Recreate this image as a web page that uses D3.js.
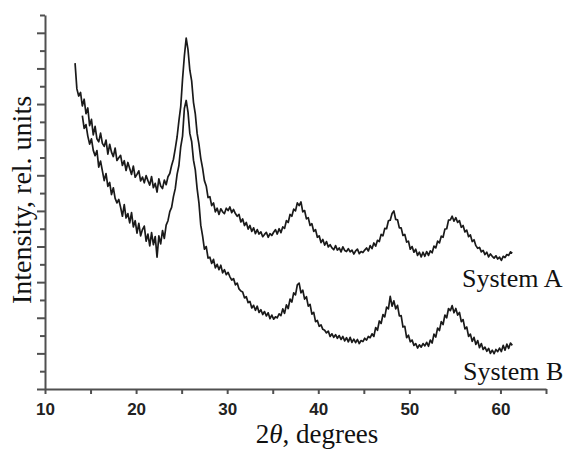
<!DOCTYPE html>
<html>
<head>
<meta charset="utf-8">
<script src="https://cdn.jsdelivr.net/npm/d3@7"></script>
<style>
  body { margin: 0; background: #fff; }
  svg { display: block; }
</style>
</head>
<body>
<svg id="chart" width="571" height="450"></svg>
<script>
// 2theta grid: first angle of each scan and the step (degrees)
const startA = 13.3;
const startB = 14.1;
const step = 0.2;

// System A intensities (rel. units)
const systemA = [
  18.30, 16.85, 16.45, 16.65, 15.89, 16.27, 15.46, 15.78, 14.79, 15.14,
  14.27, 14.75, 14.05, 13.88, 14.37, 13.79, 13.62, 13.98, 13.19, 13.74,
  13.30, 13.05, 13.53, 12.83, 12.98, 13.12, 12.55, 12.82, 12.27, 12.72,
  12.38, 12.05, 12.52, 11.89, 12.05, 12.25, 11.68, 11.90, 11.58, 11.98,
  11.70, 11.45, 11.93, 11.30, 11.55, 11.06, 11.80, 11.40, 11.25, 11.73,
  11.47, 11.92, 12.10, 12.55, 12.90, 13.50, 14.15, 15.05, 15.85, 17.40,
  18.70, 19.70, 19.05, 17.90, 17.30, 16.10, 15.45, 14.35, 13.75, 12.95,
  12.40, 11.70, 11.40, 10.75, 10.80, 10.30, 10.45, 9.95, 10.15, 9.80,
  10.12, 9.95, 9.85, 10.15, 10.02, 10.22, 9.90, 10.08, 9.85, 9.70,
  9.80, 9.38, 9.55, 9.18, 9.35, 8.98, 9.18, 8.85, 9.05, 8.72,
  8.95, 8.70, 8.82, 8.55, 8.68, 8.80, 8.52, 8.72, 8.62, 8.80,
  8.95, 8.70, 9.00, 8.78, 9.10, 9.02, 9.45, 9.35, 9.80, 9.70,
  10.10, 10.00, 10.45, 10.30, 10.50, 9.95, 10.02, 9.55, 9.62, 9.18,
  9.28, 8.85, 8.95, 8.52, 8.60, 8.22, 8.40, 8.08, 8.28, 7.98,
  8.10, 7.92, 7.82, 8.05, 7.80, 7.92, 7.70, 7.98, 7.78, 7.72,
  7.88, 7.70, 7.80, 7.58, 7.75, 7.85, 7.60, 7.72, 7.66, 7.80,
  7.92, 7.75, 8.05, 7.88, 8.20, 8.02, 8.35, 8.28, 8.68, 8.60,
  9.02, 9.00, 9.45, 9.48, 9.85, 10.00, 9.52, 9.50, 9.05, 9.05,
  8.62, 8.68, 8.25, 8.30, 7.85, 8.00, 7.68, 7.85, 7.50, 7.68,
  7.42, 7.68, 7.45, 7.72, 7.50, 7.76, 7.65, 8.02, 7.92, 8.30,
  8.20, 8.58, 8.52, 8.98, 9.00, 9.48, 9.50, 9.70, 9.42, 9.62,
  9.35, 9.45, 9.08, 9.18, 8.82, 8.92, 8.55, 8.65, 8.28, 8.38,
  8.05, 7.90, 7.95, 7.70, 7.78, 7.55, 7.68, 7.42, 7.58, 7.45,
  7.35, 7.48, 7.30, 7.40, 7.22, 7.45, 7.38, 7.55, 7.50, 7.70,
  7.62
];

// System B intensities (rel. units)
const systemB = [
  15.35, 14.63, 14.85, 14.20, 13.75, 14.05, 13.40, 13.10, 13.39, 12.46,
  12.80, 12.25, 11.70, 12.10, 11.38, 11.60, 10.92, 11.30, 10.70, 10.45,
  10.64, 10.20, 9.70, 10.35, 9.60, 9.85, 9.33, 9.90, 9.10, 9.45,
  8.75, 9.30, 8.60, 8.95, 9.15, 8.30, 8.70, 8.04, 8.78, 8.10,
  8.56, 7.40, 8.60, 8.15, 8.90, 8.45, 9.20, 9.45, 9.96, 10.20,
  10.80, 11.25, 12.05, 12.55, 13.60, 14.20, 15.75, 16.20, 15.55, 14.35,
  13.90, 12.85, 12.30, 11.25, 10.45, 9.20, 8.60, 7.85, 8.00, 7.35,
  7.40, 7.05, 7.28, 6.80, 7.00, 6.70, 6.95, 6.52, 6.70, 6.42,
  6.55, 6.30, 6.12, 6.20, 5.85, 5.95, 5.62, 5.50, 5.45, 5.12,
  5.18, 4.85, 4.92, 4.55, 4.70, 4.42, 4.65, 4.30, 4.45, 4.18,
  4.35, 4.10, 4.28, 3.95, 4.15, 3.92, 4.05, 4.00, 4.22, 4.12,
  4.50, 4.25, 4.72, 4.52, 5.05, 4.88, 5.40, 5.28, 5.85, 5.95,
  5.40, 5.55, 5.05, 5.18, 4.65, 4.75, 4.20, 4.30, 3.78, 3.85,
  3.52, 3.60, 3.35, 3.30, 3.15, 3.25, 2.95, 3.10, 2.90, 3.05,
  2.85, 3.00, 2.78, 2.95, 2.70, 2.88, 2.65, 2.90, 2.62, 2.80,
  2.60, 2.78, 2.55, 2.72, 2.66, 2.85, 2.75, 2.95, 2.88, 3.10,
  2.95, 3.45, 3.30, 3.82, 3.68, 4.18, 4.05, 4.60, 4.50, 5.20,
  4.65, 4.95, 4.50, 4.70, 4.10, 4.12, 3.48, 3.52, 2.88, 3.02,
  2.65, 2.75, 2.45, 2.55, 2.30, 2.48, 2.35, 2.55, 2.42, 2.62,
  2.40, 2.75, 2.58, 3.08, 2.92, 3.42, 3.28, 3.78, 3.62, 4.15,
  4.00, 4.52, 4.40, 4.68, 4.28, 4.52, 4.15, 4.30, 3.78, 3.90,
  3.38, 3.48, 2.95, 3.08, 2.68, 2.90, 2.50, 2.72, 2.32, 2.55,
  2.22, 2.35, 2.12, 2.28, 2.00, 2.18, 1.98, 2.22, 2.10, 2.30,
  2.10, 2.45, 2.18, 2.52, 2.28, 2.58, 2.45
];

const xTickValues = [10, 15, 20, 25, 30, 35, 40, 45, 50, 55, 60, 65];
const xTickLabels = ["10", "", "20", "", "30", "", "40", "", "50", "", "60", ""];
const yTickValues = [0, 1, 2, 3, 4, 5, 6, 7, 8, 9, 10, 11, 12, 13, 14, 15, 16, 17, 18, 19, 20, 21];

const svg = d3.select("#chart");

const x = d3.scaleLinear().domain([10, 65]).range([45, 546]);
const y = d3.scaleLinear().domain([0, 21]).range([389, 15]);

const axisColor = "#505050";

// x axis
const gx = svg.append("g")
    .attr("transform", `translate(0,${y(0)})`)
    .call(d3.axisBottom(x)
        .tickValues(xTickValues)
        .tickFormat((d, i) => xTickLabels[i])
        .tickSize(5)
        .tickSizeOuter(0)
        .tickPadding(9));

// y axis, no labels; even ticks are longer
const gy = svg.append("g")
    .attr("transform", `translate(${x(10)},0)`)
    .call(d3.axisLeft(y)
        .tickValues(yTickValues)
        .tickFormat("")
        .tickSize(5)
        .tickSizeOuter(0));
gy.selectAll(".tick line").attr("x2", d => d % 2 === 0 ? -8 : -5);

[gx, gy].forEach(g => {
    g.select(".domain").attr("stroke", axisColor).attr("stroke-width", 2);
    g.selectAll(".tick line").attr("stroke", axisColor).attr("stroke-width", 2);
});
gx.selectAll(".tick text")
    .attr("fill", "#222")
    .style("font-family", "'Liberation Sans', Arial, sans-serif")
    .style("font-weight", "bold")
    .style("font-size", "17px");

// curves
function curve(values, start) {
    return d3.line()
        .x((d, i) => x(start + i * step))
        .y(d => y(d))(values);
}

svg.append("path")
    .attr("d", curve(systemA, startA))
    .attr("fill", "none")
    .attr("stroke", "#1a1a1a")
    .attr("stroke-width", 1.7)
    .attr("stroke-linejoin", "round");

svg.append("path")
    .attr("d", curve(systemB, startB))
    .attr("fill", "none")
    .attr("stroke", "#1a1a1a")
    .attr("stroke-width", 1.7)
    .attr("stroke-linejoin", "round");

const serif = "'Liberation Serif', 'Times New Roman', serif";

svg.append("text")
    .attr("x", 462).attr("y", 287)
    .style("font-family", serif).style("font-size", "26px")
    .attr("fill", "#111")
    .text("System A");

svg.append("text")
    .attr("x", 463).attr("y", 380)
    .style("font-family", serif).style("font-size", "26px")
    .attr("fill", "#111")
    .text("System B");

// axis titles
svg.append("text")
    .attr("x", 317).attr("y", 443)
    .attr("text-anchor", "middle")
    .style("font-family", serif).style("font-size", "27px")
    .attr("fill", "#111")
    .html("2<tspan font-style='italic'>θ</tspan>, degrees");

svg.append("text")
    .attr("transform", "translate(31,200) rotate(-90)")
    .attr("text-anchor", "middle")
    .style("font-family", serif).style("font-size", "28px")
    .attr("fill", "#111")
    .text("Intensity, rel. units");
</script>
</body>
</html>
